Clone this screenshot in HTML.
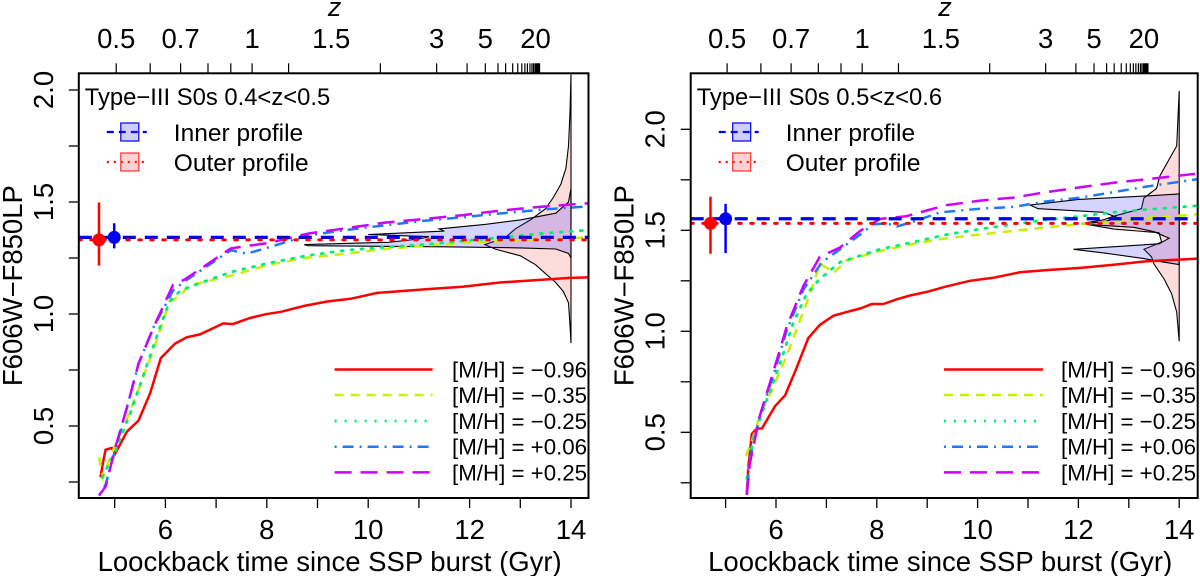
<!DOCTYPE html>
<html><head><meta charset="utf-8"><style>
html,body{margin:0;padding:0;background:#fff;}
svg{display:block;font-family:"Liberation Sans",sans-serif;}
</style></head><body>
<svg id="fig" width="1200" height="576" viewBox="0 0 1200 576" xmlns="http://www.w3.org/2000/svg"></svg>
<script>
// ---- shared axis data ----
const zTickLabels = ["0.5","0.7","1","1.5","3","5","20"];
const zLabelT = [5.03,6.30,7.71,9.27,11.35,12.31,13.30];
const zTickT = [5.03,5.70,6.30,6.84,7.29,7.71,8.43,10.24,11.35,11.95,12.31,12.56,12.71,12.85,12.95,13.03,13.09,13.14,13.19,13.23,13.26,13.29,13.31,13.33,13.35,13.37,13.38];
const xTickVals = [5,6,7,8,9,10,11,12,13,14];
const xLabelVals = [6,8,10,12,14];
const yTickVals = [0.25,0.5,0.75,1.0,1.25,1.5,1.75,2.0];
const yLabelVals = [0.5,1.0,1.5,2.0];
const seriesNames = ["[M/H] = \u22120.96","[M/H] = \u22120.35","[M/H] = \u22120.25","[M/H] = +0.06","[M/H] = +0.25"];

// ---- left panel data ----
const L_red = [[4.72,0.271],[4.77,0.337],[4.82,0.394],[4.94,0.402],[5.01,0.377],[5.24,0.475],[5.47,0.524],[5.70,0.647],[5.91,0.803],[6.19,0.868],[6.42,0.896],[6.68,0.909],[6.91,0.933],[7.14,0.958],[7.33,0.955],[7.67,0.982],[7.98,0.999],[8.28,1.010],[8.74,1.036],[9.19,1.056],[9.65,1.068],[10.18,1.094],[11.10,1.110],[11.86,1.122],[12.62,1.141],[13.98,1.161],[14.37,1.164]];
const L_yel = [[4.69,0.361],[4.77,0.271],[4.94,0.377],[5.24,0.533],[5.47,0.664],[5.77,0.843],[6.08,1.056],[6.30,1.081],[6.46,1.130],[6.68,1.138],[7.29,1.171],[8.05,1.220],[8.81,1.252],[9.57,1.269],[10.33,1.290],[11.10,1.305],[11.86,1.318],[12.62,1.326],[13.38,1.334],[14.37,1.342]];
const L_grn = [[4.75,0.271],[5.01,0.385],[5.32,0.565],[5.62,0.762],[5.92,0.958],[6.08,1.056],[6.30,1.105],[6.68,1.138],[7.29,1.187],[8.05,1.228],[8.81,1.261],[9.57,1.285],[10.33,1.298],[11.10,1.310],[11.86,1.326],[12.62,1.342],[13.38,1.359],[14.37,1.375]];
const L_blu = [[4.71,0.197],[4.82,0.238],[5.01,0.394],[5.24,0.582],[5.47,0.778],[5.77,0.942],[6.15,1.105],[6.38,1.146],[7.29,1.285],[7.60,1.269],[8.05,1.298],[8.81,1.351],[9.57,1.375],[10.33,1.396],[11.10,1.416],[11.86,1.432],[12.62,1.449],[13.38,1.465],[14.37,1.481]];
const L_pur = [[4.69,0.189],[4.82,0.230],[5.01,0.402],[5.24,0.582],[5.47,0.778],[5.77,0.942],[6.15,1.130],[6.38,1.154],[7.29,1.293],[8.05,1.318],[8.81,1.359],[9.57,1.383],[10.33,1.408],[11.10,1.424],[11.86,1.441],[12.62,1.462],[13.38,1.478],[14.37,1.495]];
const L_innerV = 1.342, L_outerV = 1.331;
const L_points = [[4.69,1.331,1.216,1.498],[4.99,1.342,1.293,1.405]];
const L_outerHistV = [2.07,1.9,1.75,1.65,1.58,1.52,1.47,1.42,1.38,1.34,1.31,1.29,1.26,1.22,1.18,1.14,1.10,1.05,0.95,0.87];
const L_outerHistW = [0,0.02,0.05,0.10,0.20,0.35,0.50,0.80,1.10,1.30,1.70,1.50,1.00,0.70,0.50,0.30,0.15,0.05,0.02,0];
const L_innerHistV = [1.56,1.50,1.45,1.42,1.40,1.38,1.37,1.355,1.345,1.335,1.32,1.31,1.305,1.30,1.295,1.29,1.27,1.25];
const L_innerHistW = [0,0.05,0.30,1.00,1.70,2.60,2.50,4.00,2.80,3.00,3.60,5.26,5.20,2.50,1.00,0.30,0.05,0];

// ---- right panel data ----
const R_red = [[5.42,0.190],[5.45,0.327],[5.52,0.492],[5.62,0.519],[5.72,0.519],[5.98,0.629],[6.18,0.683],[6.38,0.802],[6.64,0.967],[6.87,1.031],[7.14,1.077],[7.40,1.095],[7.67,1.113],[7.90,1.135],[8.13,1.135],[8.40,1.159],[8.66,1.177],[8.99,1.195],[9.39,1.223],[9.85,1.250],[10.31,1.265],[10.84,1.292],[11.37,1.303],[12.04,1.314],[12.70,1.329],[13.36,1.347],[14.37,1.360]];
const R_yel = [[5.40,0.382],[5.52,0.455],[5.68,0.583],[5.95,0.729],[6.21,0.876],[6.48,1.058],[6.68,1.186],[6.87,1.333],[7.01,1.314],[7.14,1.287],[7.40,1.351],[8.06,1.397],[8.73,1.433],[9.39,1.461],[10.05,1.479],[10.71,1.497],[11.37,1.515],[12.04,1.530],[12.70,1.543],[13.36,1.561],[14.37,1.579]];
const R_grn = [[5.42,0.272],[5.55,0.473],[5.81,0.656],[6.08,0.839],[6.34,1.040],[6.61,1.186],[6.87,1.259],[7.27,1.342],[8.06,1.406],[8.73,1.442],[9.39,1.479],[10.05,1.506],[10.71,1.530],[11.37,1.552],[12.04,1.570],[12.70,1.589],[13.36,1.603],[14.37,1.622]];
const R_blu = [[5.42,0.199],[5.48,0.364],[5.68,0.583],[5.95,0.784],[6.21,1.003],[6.54,1.205],[6.91,1.342],[7.27,1.406],[7.67,1.479],[7.93,1.530],[8.20,1.534],[8.40,1.519],[8.73,1.543],[9.26,1.589],[10.05,1.607],[10.71,1.616],[11.37,1.643],[12.04,1.662],[12.70,1.689],[13.36,1.717],[14.37,1.753]];
const R_pur = [[5.42,0.190],[5.48,0.345],[5.68,0.583],[5.95,0.802],[6.21,1.021],[6.54,1.223],[6.87,1.369],[7.27,1.415],[7.67,1.497],[8.06,1.556],[8.59,1.570],[8.99,1.598],[9.39,1.625],[10.05,1.647],[10.71,1.662],[11.37,1.689],[12.04,1.713],[12.70,1.735],[13.36,1.753],[14.37,1.781]];
const R_innerV = 1.557, R_outerV = 1.534;
const R_points = [[4.70,1.534,1.384,1.667],[5.00,1.557,1.387,1.631]];
const R_outerHistV = [2.19,1.918,1.771,1.707,1.66,1.607,1.57,1.552,1.534,1.506,1.488,1.442,1.406,1.369,1.333,1.259,1.186,1.095,0.95];
const R_outerHistW = [0,0.05,0.38,0.45,0.70,0.75,1.30,1.50,1.93,1.30,0.40,0.35,0.70,0.55,0.50,0.30,0.15,0.05,0];
const R_innerHistV = [1.68,1.671,1.653,1.625,1.607,1.589,1.561,1.543,1.530,1.515,1.493,1.461,1.433,1.406,1.388,1.36,1.342,1.33];
const R_innerHistW = [0,0.60,2.00,2.96,2.80,1.50,1.20,1.50,1.93,0.90,0.50,0.20,0.40,2.10,1.50,0.70,0.30,0];

const NS = "http://www.w3.org/2000/svg";
const svg = document.getElementById('fig');
function mk(tag, attrs, parent, text){
  const e = document.createElementNS(NS, tag);
  for (const k in attrs) e.setAttribute(k, attrs[k]);
  if (text !== undefined) e.textContent = text;
  (parent||svg).appendChild(e);
  return e;
}
const styles = [
  {c:"#ff0000", d:"", w:2.5},
  {c:"#c8ee00", d:"9,7", w:2.5},
  {c:"#00ee77", d:"2,8", w:2.8},
  {c:"#1e78ff", d:"2,6,11,6", w:2.5},
  {c:"#cc00ff", d:"17,9", w:2.5}
];

function panel(p){
  const X = t => p.x6 + (t-6)*p.px;
  const Y = v => p.y2 + (2-v)*p.py;
  const g = mk('g', {}, svg);
  
  
  const cid = 'clip'+p.name;
  const cp = mk('clipPath', {id:cid}, g);
  mk('rect', {x:p.L, y:p.T, width:p.R-p.L, height:p.B-p.T}, cp);
  const plot = mk('g', {'clip-path':'url(#'+cid+')'}, g);
  
  

  function hist(V, W, fill, nm){
    let pts = V.map((v,i)=> X(14-W[i]).toFixed(1)+','+Y(v).toFixed(1));
    pts.push(X(14).toFixed(1)+','+Y(V[V.length-1]).toFixed(1));
    pts.unshift(X(14).toFixed(1)+','+Y(V[0]).toFixed(1));
    const h = mk('polygon', {points:pts.join(' '), fill:fill, stroke:'#000', 'stroke-width':1.1}, plot);
    
    
  }
  hist(p.oHV, p.oHW, 'rgba(255,80,80,0.2)', 'outer-histogram');
  hist(p.iHV, p.iHW, 'rgba(60,60,255,0.22)', 'inner-histogram');

  p.series.forEach((s,i)=>{
    const st = styles[i];
    const d = s.map((q,j)=> (j?'L':'M')+X(q[0]).toFixed(1)+','+Y(q[1]).toFixed(1)).join(' ');
    const e = mk('path', {d:d, fill:'none', stroke:st.c, 'stroke-width':st.w, 'stroke-dasharray':st.d, 'stroke-linecap':i==2?'round':'butt'}, plot);
    
    
  });
  const hi = mk('line', {x1:p.L, x2:p.R, y1:Y(p.innerV), y2:Y(p.innerV), stroke:'#0000ee', 'stroke-width':3.2, 'stroke-dasharray':'13,9'}, plot);
  
  
  const ho = mk('line', {x1:p.L, x2:p.R, y1:Y(p.outerV), y2:Y(p.outerV), stroke:'#ff0000', 'stroke-width':3, 'stroke-dasharray':'2.5,9.5', 'stroke-linecap':'round'}, plot);
  
  
  const pc = ['#ff0000','#0000ee'];
  p.points.forEach((q,i)=>{
    const eb = mk('line', {x1:X(q[0]), x2:X(q[0]), y1:Y(q[2]), y2:Y(q[3]), stroke:pc[i], 'stroke-width':2.5}, plot);
    
    
    const c = mk('circle', {cx:X(q[0]), cy:Y(q[1]), r:6.5, fill:pc[i]}, plot);
    
    
  });

  const fr = mk('rect', {x:p.L, y:p.T, width:p.R-p.L, height:p.B-p.T, fill:'none', stroke:'#000', 'stroke-width':2}, g);
  
  

  xTickVals.forEach(t=>{ mk('line', {x1:X(t), x2:X(t), y1:p.B, y2:p.B+10, stroke:'#000', 'stroke-width':1.3}, g); });
  xLabelVals.forEach(t=>{
    const e = mk('text', {x:X(t), y:p.B+41, 'font-size':27.5, 'text-anchor':'middle'}, g, String(t));
    
    
  });
  const xt = mk('text', {x:(p.L+p.R)/2 - 4, y:571, 'font-size':27.5, 'text-anchor':'middle'}, g, 'Loockback time since SSP burst (Gyr)');
  
  
  zTickT.forEach(t=>{ mk('line', {x1:X(t), x2:X(t), y1:p.T-10, y2:p.T, stroke:'#000', 'stroke-width':1.2}, g); });
  zLabelT.forEach((t,i)=>{
    const e = mk('text', {x:X(t), y:48, 'font-size':27.5, 'text-anchor':'middle'}, g, zTickLabels[i]);
    
    
  });
  const zt = mk('text', {x:p.zx, y:16, 'font-size':27, 'font-style':'italic', 'text-anchor':'middle'}, g, 'z');
  
  
  yTickVals.forEach(v=>{ if (Y(v) > p.T && Y(v) < p.B) mk('line', {x1:p.L-10, x2:p.L, y1:Y(v), y2:Y(v), stroke:'#000', 'stroke-width':1.3}, g); });
  yLabelVals.forEach(v=>{
    const e = mk('text', {x:0, y:0, 'font-size':27.5, 'text-anchor':'middle', transform:'translate('+(p.L-26)+','+Y(v)+') rotate(-90)'}, g, v.toFixed(1));
    
    
  });
  const yt = mk('text', {x:0, y:0, 'font-size':27.5, 'text-anchor':'middle', transform:'translate('+(p.L-57)+','+((p.T+p.B)/2)+') rotate(-90)'}, g, 'F606W\u2212F850LP');
  
  

  const tl = mk('text', {x:p.L+6, y:105, 'font-size':23.8}, g, p.title);
  
  
  const lg = mk('g', {}, g);
  
  
  const s0 = p.L + 28;
  mk('line', {x1:s0, x2:s0+40, y1:132, y2:132, stroke:'#0000ee', 'stroke-width':2.2, 'stroke-dasharray':'7,5'}, lg);
  mk('rect', {x:s0+14, y:123, width:18, height:18, fill:'rgba(60,60,255,0.25)', stroke:'#0000ee', 'stroke-width':1.2}, lg);
  mk('line', {x1:s0, x2:s0+40, y1:162, y2:162, stroke:'#ff0000', 'stroke-width':2.2, 'stroke-dasharray':'2,5'}, lg);
  mk('rect', {x:s0+14, y:153, width:18, height:18, fill:'rgba(255,80,80,0.25)', stroke:'#ff3030', 'stroke-width':1.2}, lg);
  mk('text', {x:s0+67, y:141, 'font-size':24.5}, lg, 'Inner profile');
  mk('text', {x:s0+67, y:171, 'font-size':24.5}, lg, 'Outer profile');

  const rows = [369.5,395,421,446.7,472.4];
  seriesNames.forEach((n,i)=>{
    const st = styles[i];
    const le = mk('g', {}, g);
    
    
    mk('line', {x1:p.lgx, x2:p.lgx+p.lgw, y1:rows[i], y2:rows[i], stroke:st.c, 'stroke-width':st.w, 'stroke-dasharray':st.d}, le);
    mk('text', {x:p.lgt, y:rows[i]+8, 'font-size':22.3}, le, n);
  });
}

panel({name:'left-panel', L:78.8, R:588.5, T:73.3, B:498, x6:165.4, px:50.7, y2:90, py:224, zx:334.6,
  title:'Type\u2212III S0s 0.4<z<0.5', series:[L_red,L_yel,L_grn,L_blu,L_pur],
  innerV:L_innerV, outerV:L_outerV, points:L_points,
  oHV:L_outerHistV, oHW:L_outerHistW, iHV:L_innerHistV, iHW:L_innerHistW,
  lgx:334.6, lgw:98, lgt:452});
panel({name:'right-panel', L:690.7, R:1197.7, T:73.3, B:498, x6:776, px:50.4, y2:129.3, py:202, zx:945,
  title:'Type\u2212III S0s 0.5<z<0.6', series:[R_red,R_yel,R_grn,R_blu,R_pur],
  innerV:R_innerV, outerV:R_outerV, points:R_points,
  oHV:R_outerHistV, oHW:R_outerHistW, iHV:R_innerHistV, iHW:R_innerHistW,
  lgx:944, lgw:99, lgt:1061});
</script>
</body></html>
